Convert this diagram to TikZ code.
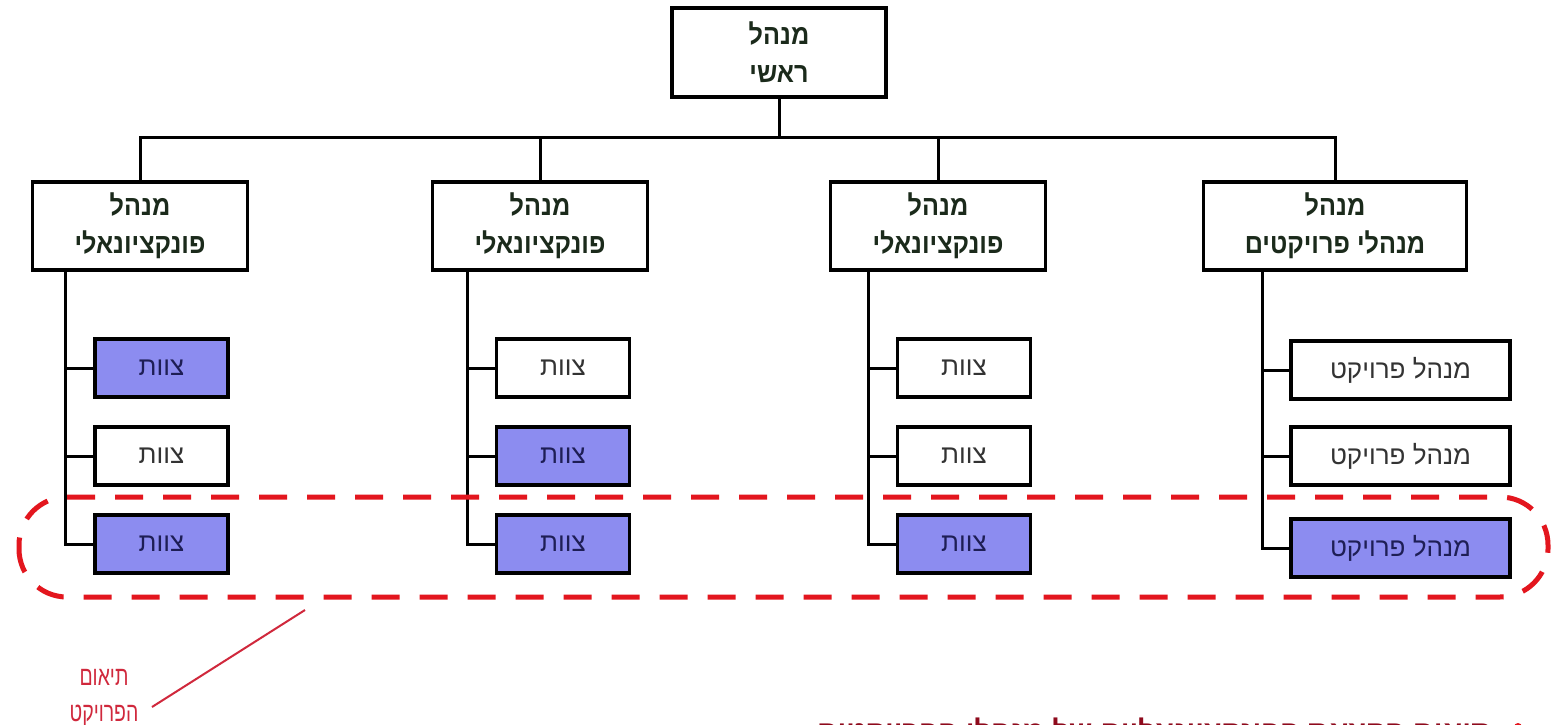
\documentclass[tikz,border=0pt]{standalone}
\usepackage{fontspec}
\newfontfamily\heb[Script=Hebrew]{Liberation Sans}
\newfontfamily\hebn[Script=Hebrew,FakeStretch=0.9]{Liberation Sans}
\newfontfamily\hebc[Script=Hebrew,FakeStretch=0.72]{Liberation Sans}
\TeXXeTstate=1
\usetikzlibrary{calc}
\newcommand\rl[1]{\beginR #1\endR}
\definecolor{hdrtext}{HTML}{1B2A1B}
\definecolor{teamtext}{HTML}{333333}
\definecolor{hltext}{HTML}{1E1E55}
\definecolor{hlfill}{HTML}{8C8CF0}
\definecolor{dashred}{HTML}{E3161E}
\definecolor{notered}{HTML}{D0283C}
\definecolor{darkred}{HTML}{8E0A1C}
\tikzset{
  boxline/.style={draw=black, line width=3.4pt},
  link/.style={draw=black, line width=3pt},
  mgr/.style={boxline, fill=white, rectangle, minimum width=215pt, minimum height=88pt,
    align=center, text=hdrtext, font={\hebn\bfseries\fontsize{28}{38}\selectfont}},
  team/.style={boxline, fill=white, rectangle, minimum width=133pt, minimum height=58pt,
    text=teamtext, font={\heb\fontsize{26}{30}\selectfont}},
  teamhl/.style={team, fill=hlfill, text=hltext},
  pm/.style={team, minimum width=219pt},
  pmhl/.style={teamhl, minimum width=219pt},
}
\begin{document}
\begin{tikzpicture}[x=1pt, y=-1pt]
\clip (0,0) rectangle (1553,725);
\fill[white] (0,0) rectangle (1553,725);

% top manager
\node[mgr, minimum width=214pt, minimum height=89pt] (top) at (779,52.5) {\rl{מנהל}\\\rl{ראשי}};

% second level
\node[mgr] (m1) at (140,226) {\rl{מנהל}\\\rl{פונקציונאלי}};
\node[mgr] (m2) at (540,226) {\rl{מנהל}\\\rl{פונקציונאלי}};
\node[mgr] (m3) at (938,226) {\rl{מנהל}\\\rl{פונקציונאלי}};
\node[mgr, minimum width=263pt] (m4) at (1335,226) {\rl{מנהל}\\\rl{מנהלי פרויקטים}};

% bus from the top manager
\coordinate (bus) at (779,137);
\draw[link] (top.south) -- (bus);
\draw[link] (m1.north) |- (bus) -| (m4.north);
\draw[link] (m2.north) -- (m2.north |- bus);
\draw[link] (m3.north) -- (m3.north |- bus);

% teams, column 1
\node[teamhl] (a1) at (161.5,368) {\rl{צוות}};
\node[team]   (a2) at (161.5,456) {\rl{צוות}};
\node[teamhl] (a3) at (161.5,544) {\rl{צוות}};
% column 2
\node[team]   (b1) at (563,368) {\rl{צוות}};
\node[teamhl] (b2) at (563,456) {\rl{צוות}};
\node[teamhl] (b3) at (563,544) {\rl{צוות}};
% column 3
\node[team]   (c1) at (964,368) {\rl{צוות}};
\node[team]   (c2) at (964,456) {\rl{צוות}};
\node[teamhl] (c3) at (964,544) {\rl{צוות}};
% column 4
\node[pm]   (d1) at (1400.5,370) {\rl{מנהל פרויקט}};
\node[pm]   (d2) at (1400.5,456) {\rl{מנהל פרויקט}};
\node[pmhl] (d3) at (1400.5,548) {\rl{מנהל פרויקט}};

% trunks and stubs
\coordinate (a0) at ($(m1.south west)+(35,0)$);
\coordinate (b0) at ($(m2.south west)+(37,0)$);
\coordinate (c0) at ($(m3.south west)+(40,0)$);
\coordinate (d0) at ($(m4.south west)+(61,0)$);
\foreach \t in {a,b,c,d}{
  \draw[link] (\t0) |- (\t3.west);
  \draw[link] (\t0 |- \t1.west) -- (\t1.west);
  \draw[link] (\t0 |- \t2.west) -- (\t2.west);
}

% project coordination band
\draw[dashred, line width=5pt, dash pattern=on 28pt off 20pt, rounded corners=48pt]
  (19,497) rectangle (1548,597);

% callout
\node[text=notered, align=center, font={\hebc\fontsize{27}{36}\selectfont}] (note) at (104,698)
  {\rl{תיאום}\\\rl{הפרויקט}};
\coordinate (band) at (305,610);
\draw[notered, line width=2pt] (band) -- (152,707);

% bullet line along the bottom edge
\node[anchor=base east, text=darkred, inner sep=0pt, font={\heb\bfseries\fontsize{29}{34}\selectfont}] (bul) at (1492,741)
  {\rl{תיאום הקצאת הפונקציונאליים של מנהלי הפרויקטים}};
\node[circle, fill=dashred, inner sep=0pt, minimum size=8pt] (dot) at (1518,727) {};
\end{tikzpicture}
\end{document}
